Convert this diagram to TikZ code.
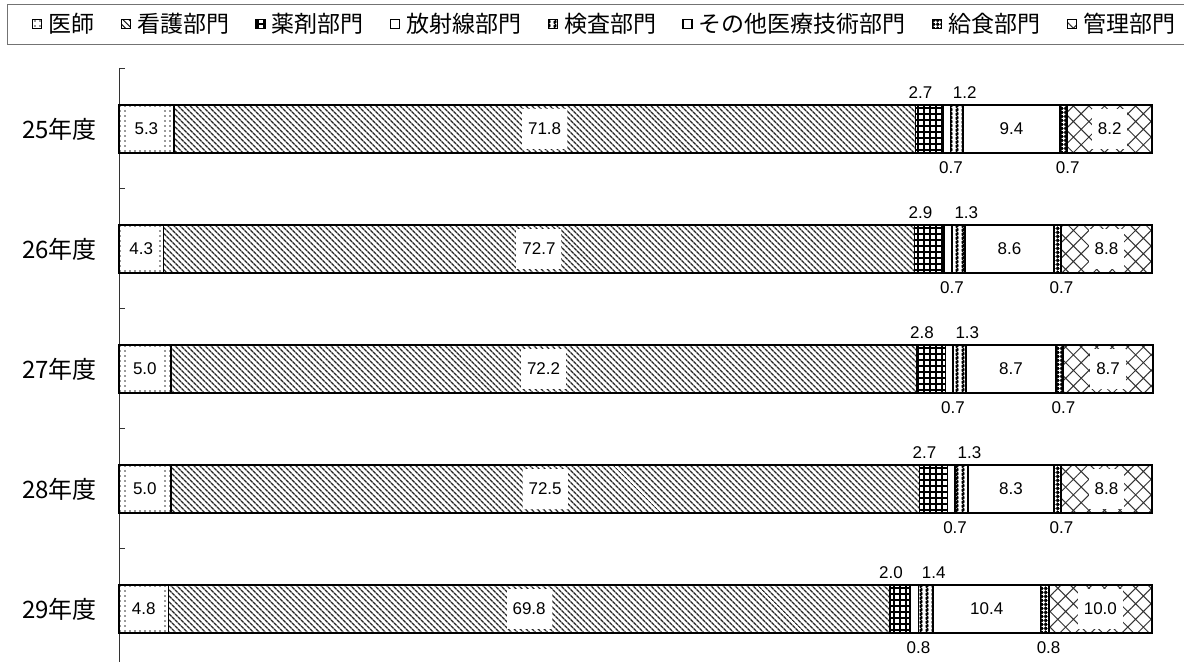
\documentclass[tikz,border=0pt]{standalone}
\usepackage{fontspec}
\setmainfont{Liberation Sans}
\newfontfamily\jpfont{Noto Sans CJK JP}
\usetikzlibrary{patterns,patterns.meta,positioning}

% vertical wave for the 検査 share
\pgfdeclarepatternformonly{wavy}{\pgfqpoint{-1pt}{-1pt}}{\pgfqpoint{7pt}{5pt}}{\pgfqpoint{6pt}{4pt}}{%
  \pgfsetlinewidth{1.1pt}%
  \pgfpathmoveto{\pgfqpoint{1.5pt}{0pt}}%
  \pgfpathcurveto{\pgfqpoint{4.5pt}{0.5pt}}{\pgfqpoint{4.5pt}{1.5pt}}{\pgfqpoint{3pt}{2pt}}%
  \pgfpathcurveto{\pgfqpoint{1.5pt}{2.5pt}}{\pgfqpoint{1.5pt}{3.5pt}}{\pgfqpoint{4.5pt}{4pt}}%
  \pgfusepath{stroke}}

\begin{document}
\begin{tikzpicture}[x=1pt, y=1pt,
	seg1/.style = {pattern={Dots[distance=5pt, radius=0.9pt]}, pattern color=black!80},
	seg2/.style = {pattern={Lines[angle=-45, distance=4pt, line width=1.4pt]}, pattern color=black!85},
	seg3/.style = {pattern={Hatch[angle=0, distance=6pt, line width=1.4pt]}},
	seg4/.style = {fill=white},
	seg5/.style = {pattern=wavy, pattern color=black},
	seg6/.style = {fill=white},
	seg7/.style = {preaction={fill=black}, pattern={Hatch[angle=0, distance=4pt, line width=1.5pt]}, pattern color=white},
	seg8/.style = {pattern={Hatch[angle=45, distance=11pt, line width=1pt]}, pattern color=black!80},
	bar/.style = {draw=black, line width=1.8pt},
	val/.style = {font=\fontsize{17}{20}\selectfont, inner sep=1pt},
	vin/.style = {val, fill=white, inner xsep=6pt, minimum height=40pt},
	lab1/.style = {vin}, lab2/.style = {vin}, lab6/.style = {vin}, lab8/.style = {vin},
	lab3/.style = {yshift=36pt, xshift=-9pt},
	lab5/.style = {yshift=36pt, xshift=8pt},
	lab4/.style = {yshift=-39pt, xshift=4pt},
	lab7/.style = {lab4},
	yearlabel/.style = {font=\jpfont\fontsize{24}{26}\selectfont, anchor=east, inner sep=0pt},
	legicon/.style = {draw=black, line width=1.2pt, minimum size=9pt, inner sep=0pt},
	legtext/.style = {font=\jpfont\fontsize{23}{25}\selectfont, inner sep=0pt},
	]
	\useasboundingbox (0,0) rectangle (1184,666);
	
	% legend frame and entries, one after another
	\draw[black!55, line width=0.8pt] (1184,662) -- (7,662) -- (7,622) -- (1184,622);
	\node[legicon, seg1] (li1) at (37,642) {};
	\node[legtext, right=6pt of li1] (lt1) {医師};
	\foreach \name [count=\k from 2] in {看護部門, 薬剤部門, 放射線部門, 検査部門,
		その他医療技術部門, 給食部門, 管理部門}
	{
		\pgfmathtruncatemacro\p{\k-1}
		\node[legicon, seg\k, right=26pt of lt\p] (li\k) {};
		\node[legtext, right=6pt of li\k] (lt\k) {\name};
	}
	
	% category axis with its ticks
	\draw[black!80, line width=0.8pt] (119,598) -- (119,4);
	\foreach \t in {0,...,4}
	\draw[black!80, line width=0.8pt] (119,598-120*\t) -- ++(6,0);
	
	% one stacked bar per year
	\foreach \yr/\vals [count=\i] in {25/{5.3,71.8,2.7,0.7,1.2,9.4,0.7,8.2},
		26/{4.3,72.7,2.9,0.7,1.3,8.6,0.7,8.8},
		27/{5.0,72.2,2.8,0.7,1.3,8.7,0.7,8.7},
		28/{5.0,72.5,2.7,0.7,1.3,8.3,0.7,8.8},
		29/{4.8,69.8,2.0,0.8,1.4,10.4,0.8,10.0}}
	{
		\pgfmathsetmacro\yc{537-120*(\i-1)}
		\node[yearlabel] (y\i) at (97,\yc) {\yr 年度};
		\gdef\xs{0}
		\foreach \v [count=\j] in \vals
		{
			\pgfmathsetmacro\xe{\xs+\v}
			\pgfmathsetmacro\xa{119+10.33*\xs}
			\pgfmathsetmacro\xb{119+10.33*\xe}
			\draw[bar, seg\j] (\xa,\yc-24) rectangle (\xb,\yc+24);
			\node[val, lab\j] (v\i-\j) at ({(\xa+\xb)/2},\yc) {\v};
			\xdef\xs{\xe}
		}
	}
	
\end{tikzpicture}
\end{document}
